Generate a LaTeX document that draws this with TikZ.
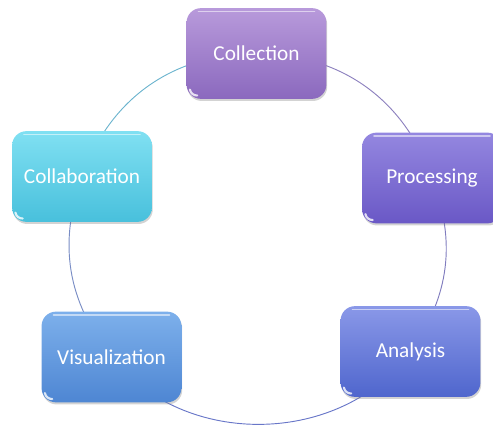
\documentclass[tikz,border=0pt]{standalone}
\usepackage{fontspec}
\setmainfont{Carlito}
\usepackage{tikz}
\usetikzlibrary{shadows, positioning}

\definecolor{collTop}{HTML}{B89ADB}
\definecolor{collBot}{HTML}{8B69BE}
\definecolor{procTop}{HTML}{9487E0}
\definecolor{procBot}{HTML}{6A58C6}
\definecolor{analTop}{HTML}{8A98E8}
\definecolor{analBot}{HTML}{4F66CD}
\definecolor{visuTop}{HTML}{7DB0EB}
\definecolor{visuBot}{HTML}{4E86D3}
\definecolor{collabTop}{HTML}{80E0F2}
\definecolor{collabBot}{HTML}{48C0DC}

\tikzstyle{stage} = [rectangle, rounded corners=0.38cm, minimum width=3.7cm, minimum height=2.4cm, text centered, text=white, font=\fontsize{16}{18}\selectfont, drop shadow={opacity=0.35, shadow xshift=0.6pt, shadow yshift=-1.6pt}, path picture={
  \draw[white, opacity=0.55, line width=1.4pt, line cap=round] ([xshift=9pt,yshift=-2.5pt]path picture bounding box.north west) -- ([xshift=-9pt,yshift=-2.5pt]path picture bounding box.north east);
  \draw[white, opacity=0.8, line width=1.6pt, line cap=round] ([xshift=2.5pt,yshift=7pt]path picture bounding box.south west) to[bend right=40] ([xshift=8pt,yshift=2.5pt]path picture bounding box.south west);
}]
\tikzstyle{ring} = [line width=0.7pt]

\begin{document}
\begin{tikzpicture}[x=0.02646cm, y=-0.02646cm]
\clip (0,0) rectangle (493,429);
\useasboundingbox (0,0) rectangle (493,429);

% cycle arcs sit behind the boxes
\coordinate (c1) at (256.5,53.5);
\coordinate (c2) at (432,178);
\coordinate (c3) at (410.5,351.5);
\coordinate (c4) at (111.5,357);
\coordinate (c5) at (82,176.5);
\draw[ring, color={rgb,255:red,140;green,128;blue,190}] (c1) to[bend left=35] (c2);
\draw[ring, color={rgb,255:red,128;green,124;blue,190}] (c2) to[bend left=28] (c3);
\draw[ring, color={rgb,255:red,104;green,118;blue,200}] (c3) to[bend left=53] (c4);
\draw[ring, color={rgb,255:red,120;green,140;blue,196}] (c4) to[bend left=29] (c5);
\draw[ring, color={rgb,255:red,108;green,180;blue,206}] (c5) to[bend left=35] (c1);

\node (collection) [stage, top color=collTop, bottom color=collBot] at (c1) {Collection};
\node (processing) [stage, top color=procTop, bottom color=procBot] at (c2) {Processing};
\node (analysis) [stage, top color=analTop, bottom color=analBot] at (c3) {Analysis};
\node (visualization) [stage, top color=visuTop, bottom color=visuBot] at (c4) {Visualization};
\node (collaboration) [stage, top color=collabTop, bottom color=collabBot] at (c5) {Collaboration};
\end{tikzpicture}
\end{document}
